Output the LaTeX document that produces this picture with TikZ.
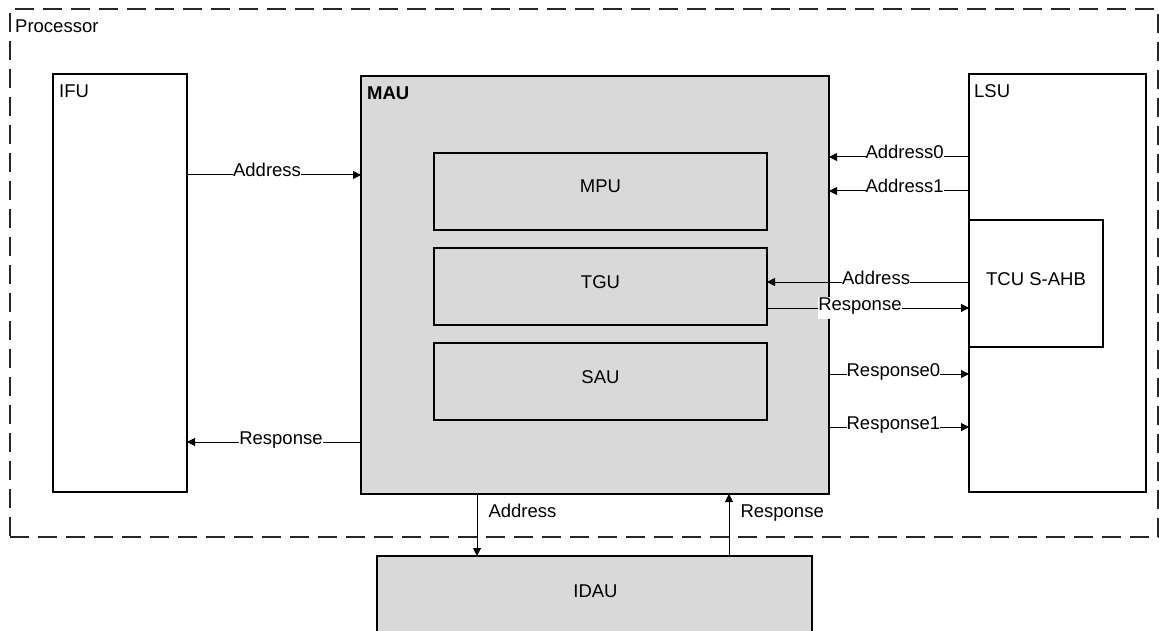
\documentclass[tikz,border=0pt]{standalone}
\usepackage{fontspec}
\setmainfont{Liberation Sans}
\usetikzlibrary{arrows.meta,calc}
\definecolor{boxgray}{RGB}{217,217,217}
\begin{document}
\begin{tikzpicture}[x=1pt,y=-1pt,
  font=\fontsize{18.5}{21}\selectfont,
  blk/.style={draw=black, line width=1.8pt, inner sep=0pt, outer sep=0pt, anchor=north west},
  gblk/.style={blk, fill=boxgray},
  inbox/.style={gblk, text height=13pt, text depth=10pt},
  proc/.style={draw=black!85, line width=1.8pt, dash pattern=on 19pt off 9pt, inner sep=0pt, outer sep=0pt, anchor=north west},
  conn/.style={line width=1pt, -{Triangle[length=8pt,width=8pt]}},
  lbl/.style={fill=white, inner sep=0pt, text height=13pt, text depth=9pt, pos=0.46},
  vlbl/.style={anchor=west, inner sep=0pt, xshift=11pt, text height=13pt, text depth=1pt},
  ttl/.style={anchor=base west, inner sep=0pt}]
\useasboundingbox (0,0) rectangle (1159,631);

% processor container
\node[proc, minimum width=1148pt, minimum height=528pt] (proc) at (10,9) {};
\node[ttl] (proct) at ($(proc.north west)+(5,24)$) {Processor};

% blocks
\node[blk, minimum width=134pt, minimum height=418pt] (ifu) at (53,74) {};
\node[ttl] (ifut) at ($(ifu.north west)+(6,24)$) {IFU};

\node[gblk, minimum width=468pt, minimum height=418pt] (mau) at (361,76) {};
\node[ttl, font=\fontsize{18.5}{21}\selectfont\bfseries] (maut) at ($(mau.north west)+(6,24)$) {MAU};

\node[inbox, minimum width=333pt, minimum height=77pt] (mpu) at (434,153) {MPU};
\node[inbox, minimum width=333pt, minimum height=77pt] (tgu) at (434,248) {TGU};
\node[inbox, minimum width=333pt, minimum height=77pt] (sau) at (434,343) {SAU};

\node[blk, minimum width=177pt, minimum height=418pt] (lsu) at (969,74) {};
\node[ttl] (lsut) at ($(lsu.north west)+(5,24)$) {LSU};

\node[blk, fill=white, minimum width=134pt, minimum height=127pt, text height=13pt, text depth=10pt] (tcu) at (969,220) {TCU S-AHB};

\node[gblk, minimum width=435pt, minimum height=90pt] (idau) at (377,556) {};
\node[anchor=base, inner sep=0pt] (idaut) at ($(idau.north)+(1,41)$) {IDAU};

% connectors
\draw[conn] (ifu.east |- 0,175) -- node[lbl]{Address} (mau.west |- 0,175);
\draw[conn] (mau.west |- 0,442) -- node[lbl]{Response} (ifu.east |- 0,442);
\draw[conn] (lsu.west |- 0,157) -- node[lbl]{Address0} (mau.east |- 0,157);
\draw[conn] (lsu.west |- 0,191) -- node[lbl]{Address1} (mau.east |- 0,191);
\draw[conn] (tcu.west |- 0,282) -- node[lbl]{Address} (tgu.east |- 0,282);
\draw[conn] (tgu.east |- 0,308) -- node[lbl]{Response} (tcu.west |- 0,308);
\draw[conn] (mau.east |- 0,374) -- node[lbl]{Response0} (lsu.west |- 0,374);
\draw[conn] (mau.east |- 0,427) -- node[lbl]{Response1} (lsu.west |- 0,427);
\draw[conn] (mau.south -| 477,0) -- node[vlbl, pos=0.29]{Address} (idau.north -| 477,0);
\draw[conn] (idau.north -| 729,0) -- node[vlbl, pos=0.71]{Response} (mau.south -| 729,0);
\end{tikzpicture}
\end{document}
